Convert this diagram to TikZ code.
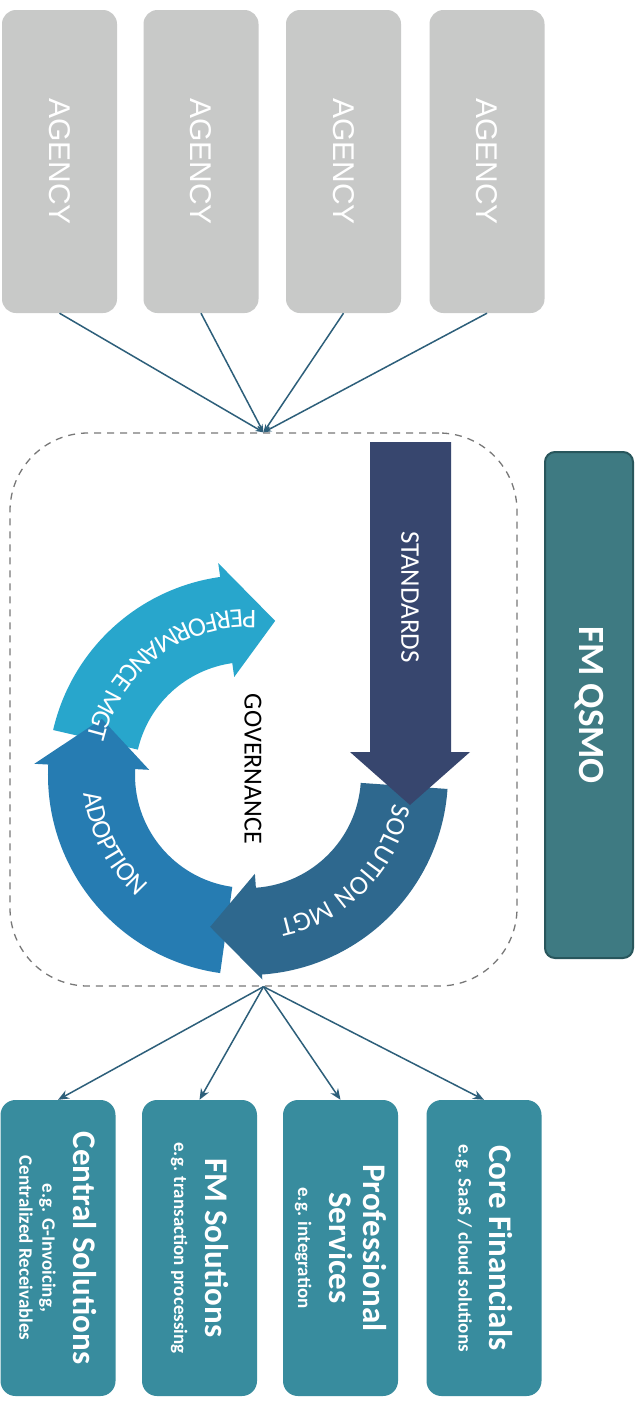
\documentclass[tikz,border=0pt]{standalone}
\usepackage{fontspec}
\setmainfont{Carlito}
\newfontfamily\agencyfont{Liberation Sans}
\usetikzlibrary{calc,arrows.meta,decorations.text}
\definecolor{agencygray}{RGB}{200,201,200}
\definecolor{connblue}{RGB}{45,95,122}
\definecolor{stdc}{RGB}{55,70,110}
\definecolor{solc}{RGB}{46,104,142}
\definecolor{adoc}{RGB}{38,124,178}
\definecolor{perfc}{RGB}{40,166,204}
\definecolor{fmq}{RGB}{62,122,130}
\definecolor{fmqdark}{RGB}{40,86,92}
\definecolor{solteal}{RGB}{56,140,158}
\definecolor{framegray}{RGB}{120,120,120}
\newcommand\mytitlefont{\bfseries\fontsize{33}{34}\selectfont}
\newcommand\mysubfont{\bfseries\fontsize{19}{23}\selectfont}
\newcommand\myarcfont{\fontsize{27}{30}\selectfont\color{white}}
\newcommand\mkboxtext[2]{\rotatebox{-90}{\begin{minipage}{270pt}\centering{\mytitlefont #1\par}\vspace{8pt}{\mysubfont #2\par}\end{minipage}}}
\tikzset{
  agencybox/.style={fill=agencygray, rounded corners=14pt, minimum width=115pt, minimum height=303pt, inner sep=0pt, text=white, font=\agencyfont\fontsize{30}{30}\selectfont},
  solbox/.style={fill=solteal, rounded corners=15pt, minimum width=115pt, minimum height=296pt, inner sep=0pt, text=white},
  fmbox/.style={fill=fmq, draw=fmqdark, line width=2pt, rounded corners=10pt, minimum width=88pt, minimum height=506pt, inner sep=0pt, text=white, font=\bfseries\fontsize{37}{37}\selectfont},
  govframe/.style={draw=framegray, line width=1.3pt, dash pattern=on 7pt off 6pt, rounded corners=78pt, minimum width=507pt, minimum height=553pt, inner sep=0pt},
  conn/.style={draw=connblue, line width=1.5pt},
  intip/.style={-{Stealth[length=8pt,width=6pt]}},
  outtip/.style={-{Stealth[length=11pt,width=9pt]}},
  arctext/.style={decorate, decoration={text along path, text align=center, text={|\myarcfont|#1}}},
  plaintext/.style={inner sep=0pt, font=\fontsize{27}{27}\selectfont}
}
\begin{document}
\begin{tikzpicture}[x=1pt,y=-1pt]
\fill[white] (0,0) rectangle (642,1401);
\useasboundingbox (0,0) rectangle (642,1401);

% agencies
\node[agencybox] (ag1) at (59.5,161.5) {\rotatebox{-90}{AGENCY}};
\node[agencybox] (ag2) at (201,161.5) {\rotatebox{-90}{AGENCY}};
\node[agencybox] (ag3) at (343.5,161.5) {\rotatebox{-90}{AGENCY}};
\node[agencybox] (ag4) at (487,161.5) {\rotatebox{-90}{AGENCY}};

% governance frame
\node[govframe] (gov) at (263.5,709.5) {};

% cycle
\coordinate (C) at (248,775);
\fill[perfc] ($(C)+(193:200)$) arc[start angle=193,end angle=262,radius=200]
  -- ($(C)+(262:214)$) -- ($(C)+(280:156.5)$) -- ($(C)+(262:99)$) -- ($(C)+(262:113)$)
  arc[start angle=262,end angle=193,radius=113] -- cycle;
\fill[adoc] ($(C)+(98:200)$) arc[start angle=98,end angle=183,radius=200]
  -- ($(C)+(183:214)$) -- ($(C)+(201:156.5)$) -- ($(C)+(183:99)$) -- ($(C)+(183:113)$)
  arc[start angle=183,end angle=98,radius=113] -- cycle;
\fill[solc] ($(C)+(4:200)$) arc[start angle=4,end angle=86,radius=200]
  -- ($(C)+(86:205)$) -- ($(C)+(104:156.5)$) -- ($(C)+(86:99)$) -- ($(C)+(86:113)$)
  arc[start angle=86,end angle=4,radius=113] -- cycle;
\fill[stdc] (370,442) -- (451,442) -- (451,752) -- (470,752) -- (410,805) -- (350,752) -- (370,752) -- cycle;

\path[arctext=PERFORMANCE MGT] ($(C)+(278:165)$) arc[start angle=278,end angle=188,radius=165];
\path[arctext=ADOPTION] ($(C)+(193:165)$) arc[start angle=193,end angle=113,radius=165];
\path[arctext=SOLUTION MGT] ($(C)+(2:148)$) arc[start angle=2,end angle=87,radius=148];

\node[plaintext, text=white] (stdlabel) at (410,597) {\rotatebox{-90}{STANDARDS}};
\node[plaintext, text=black, font=\fontsize{26}{26}\selectfont] (govlabel) at (253,769) {\rotatebox{-90}{GOVERNANCE}};

% FM QSMO
\node[fmbox] (fm) at (589,705) {\rotatebox{-90}{FM QSMO}};

% solution boxes
\node[solbox] (cs) at (58,1248) {\mkboxtext{Central Solutions}{e.g. G-Invoicing,\\Centralized Receivables}};
\node[solbox] (fms) at (199.5,1248) {\mkboxtext{FM Solutions}{e.g. transaction processing}};
\node[solbox] (ps) at (340.5,1248) {\mkboxtext{Professional\\Services}{e.g. integration}};
\node[solbox] (cf) at (484,1248) {\mkboxtext{Core Financials}{e.g. SaaS / cloud solutions}};

% connectors
\foreach \a in {ag1,ag2,ag3,ag4} \draw[conn,intip] (\a.south) -- (gov.north);
\foreach \b in {cs,fms,ps,cf} \draw[conn,outtip] (gov.south) -- (\b.north);
\end{tikzpicture}
\end{document}
